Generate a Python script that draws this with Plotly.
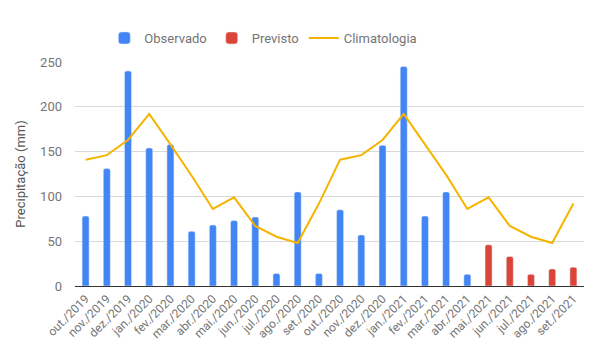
import plotly.graph_objects as go

months = ["out./2019", "nov./2019", "dez./2019", "jan./2020", "fev./2020", "mar./2020",
          "abr./2020", "mai./2020", "jun./2020", "jul./2020", "ago./2020", "set./2020",
          "out./2020", "nov./2020", "dez./2020", "jan./2021", "fev./2021", "mar./2021",
          "abr./2021", "mai./2021", "jun./2021", "jul./2021", "ago./2021", "set./2021"]

observado = [78, 131, 240, 154, 158, 61, 68, 73, 77, 14, 105, 14,
             85, 57, 157, 245, 78, 105, 13, None, None, None, None, None]
previsto = [None] * 19 + [46, 33, 13, 19, 21]
climatologia = [141, 146, 163, 192, 158, 123, 86, 99, 67, 55, 48, 92,
                141, 146, 163, 192, 158, 124, 86, 99, 67, 55, 48, 92]

fig = go.Figure()
fig.add_trace(go.Bar(x=months, y=observado, name="Observado",
                     marker=dict(color="#4285F4", cornerradius=2), width=0.33))
fig.add_trace(go.Bar(x=months, y=previsto, name="Previsto",
                     marker=dict(color="#DB4437", cornerradius=2), width=0.33))
fig.add_trace(go.Scatter(x=months, y=climatologia, name="Climatologia", mode="lines",
                         line=dict(color="#F4B400", width=2)))

fig.update_layout(
    width=596, height=352,
    margin=dict(l=75, r=12, t=62, b=66),
    barmode="overlay",
    plot_bgcolor="white", paper_bgcolor="white",
    font=dict(family="Roboto", size=12, color="#757575"),
    legend=dict(orientation="h", x=0.37, xanchor="center", y=1.107, yanchor="middle",
                font=dict(size=13, color="#757575"), itemwidth=30, traceorder="normal"),
    xaxis=dict(tickangle=-45, showgrid=False, showline=True, linecolor="#333333",
               linewidth=1, tickfont=dict(size=12, color="#757575"), ticks="",
               automargin=False),
    yaxis=dict(range=[0, 250], tickvals=[0, 50, 100, 150, 200, 250], showgrid=True,
               gridcolor="#d9d9d9", zeroline=False, ticklabelstandoff=12,
               tickfont=dict(size=13, color="#757575"), automargin=False,
               title=dict(text="Precipitação (mm)", font=dict(size=13, color="#555555"),
                          standoff=11)),
)

fig.write_html("out.html")
